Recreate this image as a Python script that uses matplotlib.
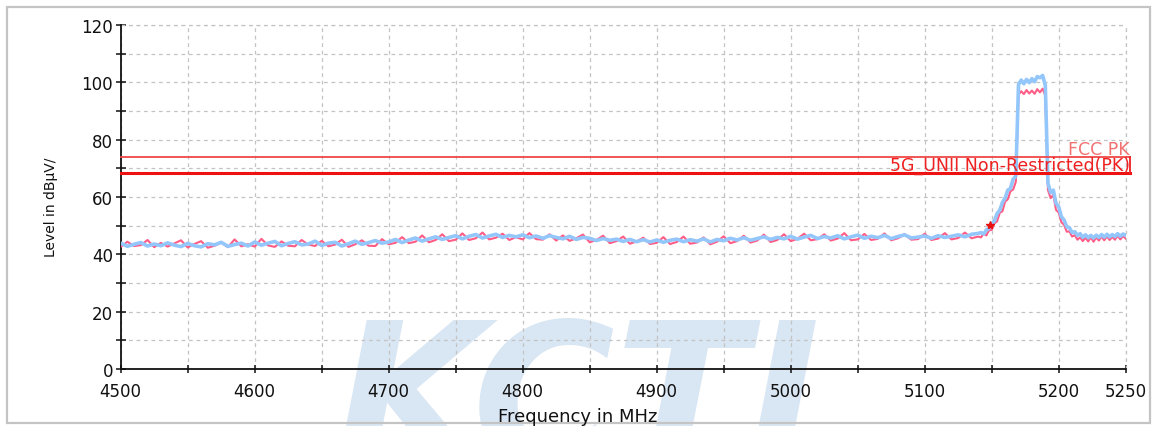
import numpy as np
import matplotlib
matplotlib.use("Agg")
import matplotlib.pyplot as plt
from matplotlib.ticker import MultipleLocator, NullFormatter
from matplotlib.patches import Rectangle

# ---------------- data ----------------
freq_base = np.arange(4500, 5145, 5)          # 4500 ... 5140 MHz
freq_peak = np.arange(5142, 5251, 2)          # 5142 ... 5250 MHz

blue_base = [
    43.9, 42.8, 43.5, 44.1, 42.9, 43.6, 43.0, 44.0, 43.2, 42.7,
    43.8, 43.0, 42.6, 43.7, 43.3, 44.2, 42.8, 43.4, 43.9, 42.9,
    44.3, 43.2, 43.9, 44.5, 43.0, 43.8, 44.4, 43.3, 43.6, 44.6,
    43.1, 43.9, 44.2, 42.9, 43.7, 44.6, 43.5, 44.1, 44.8, 43.9,
    44.3, 45.2, 44.1, 45.0, 45.7, 44.6, 45.4, 46.1, 45.2, 45.9,
    46.5, 45.4, 46.3, 46.9, 45.7, 46.4, 47.0, 45.9, 46.6, 46.1,
    46.8, 45.8, 46.4, 45.6, 46.5, 45.9, 45.4, 46.3, 45.2, 45.9,
    45.6, 44.8, 45.5, 44.9, 45.3, 44.5, 45.2, 44.4, 45.1, 44.3,
    45.0, 44.2, 44.9, 45.3, 44.4, 45.1, 44.6, 45.4, 44.3, 45.2,
    44.7, 45.6, 45.0, 45.8, 44.9, 45.5, 46.1, 45.2, 45.9, 45.4,
    46.3, 45.3, 46.0, 46.6, 45.5, 46.2, 45.7, 46.5, 45.4, 46.1,
    46.7, 45.6, 46.3, 45.8, 46.6, 45.5, 46.2, 46.8, 45.7, 46.0,
    46.4, 45.6, 46.5, 45.9, 46.3, 46.8, 46.1, 47.0, 47.3,
]
red_base = [
    42.6, 44.4, 42.9, 43.2, 45.0, 42.5, 44.0, 42.7, 43.8, 44.9,
    42.4, 43.6, 44.6, 42.3, 43.0, 44.1, 42.5, 45.2, 42.8, 43.5,
    42.7, 45.4, 43.1, 42.6, 44.5, 43.0, 42.8, 45.0, 43.4, 42.9,
    44.7, 42.8, 43.4, 45.1, 42.6, 43.5, 44.9, 43.0, 42.9, 45.3,
    43.5, 44.0, 46.0, 43.9, 44.4, 46.6, 44.2, 45.0, 47.0, 44.6,
    45.1, 47.3, 45.0, 45.6, 47.6, 45.2, 45.8, 47.2, 45.0, 46.0,
    45.2, 47.4, 45.3, 45.1, 47.0, 44.8, 46.6, 44.7, 45.6, 46.9,
    44.2, 45.0, 46.5, 43.9, 44.6, 46.2, 43.7, 44.5, 45.8, 43.6,
    44.0, 46.0, 43.6, 44.3, 46.2, 43.7, 44.1, 45.9, 43.5, 44.4,
    46.3, 43.9, 44.6, 46.5, 44.1, 44.8, 46.9, 44.3, 45.0, 47.0,
    44.6, 45.4, 47.2, 44.9, 45.3, 47.0, 44.8, 45.5, 47.4, 44.9,
    45.2, 47.1, 45.0, 45.4, 47.3, 44.9, 45.6, 47.0, 45.1, 45.3,
    47.2, 45.0, 45.5, 47.4, 45.2, 45.7, 47.6, 45.6, 46.2,
]
blue_peak = [
    47.6, 47.1, 48.5, 49.0, 50.6, 51.7, 54.2, 55.4, 58.1, 59.6,
    62.4, 63.0, 66.2, 67.3,
    99.2, 100.8, 99.5, 101.0, 99.9, 101.3, 100.2, 102.0, 101.6, 102.4, 99.0,
    64.8, 61.5, 62.4, 57.8, 56.6, 53.1, 52.0, 49.6, 49.3, 47.6,
    47.9, 46.6, 47.2, 45.9, 46.8, 45.8, 46.6, 45.7, 46.7, 45.9,
    46.9, 46.0, 47.0, 46.1, 46.9, 46.2, 47.2, 46.3, 47.1, 46.6,
]
red_peak = [
    45.9, 47.2, 46.6, 48.4, 48.5, 50.8, 51.5, 54.5, 55.0, 58.4,
    59.2, 62.0, 62.6, 65.3,
    95.6, 96.9, 95.9, 97.3, 96.1, 97.1, 96.0, 97.6, 96.5, 97.8, 95.3,
    62.4, 59.6, 60.8, 55.5, 54.6, 51.2, 50.3, 47.9, 48.0, 46.2,
    46.7, 45.1, 45.9, 44.6, 45.8, 44.5, 46.0, 44.4, 45.9, 44.8,
    46.2, 44.9, 46.3, 45.0, 46.1, 45.1, 46.5, 45.2, 46.4, 45.5,
]

limit_fcc_pk = 74.0
limit_unii = 68.2
marker_freq = 5148.5
marker_level = 50.2

freq = np.concatenate([freq_base, freq_peak])
blue = np.array(blue_base + blue_peak)
red = np.array(red_base + red_peak)

# ---------------- figure ----------------
W, H = 1159, 427
fig = plt.figure(figsize=(W / 100, H / 100), dpi=100)
fig.patch.set_facecolor("white")

# outer light frame
fig.patches.append(Rectangle((7 / W, 3 / H), 1143 / W, 416 / H,
                             transform=fig.transFigure, fill=False,
                             edgecolor="#c4c4c4", linewidth=1.6))

# watermark
fig.text(578 / W, (H - 462) / H, "KCTI", fontsize=140, fontweight="bold",
         fontstyle="italic", family="DejaVu Sans", color="#d9e6f3",
         ha="center", va="baseline", zorder=-5)

ax = fig.add_axes([120.7 / W, 1 - 370 / H, 1005 / W, 344 / H])
ax.patch.set_alpha(0)

ax.set_xlim(4500, 5250)
ax.set_ylim(0, 120)

ax.xaxis.set_minor_locator(MultipleLocator(50))
ax.yaxis.set_major_locator(MultipleLocator(20))
ax.yaxis.set_minor_locator(MultipleLocator(10))
ax.set_xticks([4500, 4600, 4700, 4800, 4900, 5000, 5100, 5200, 5250])
ax.xaxis.set_minor_formatter(NullFormatter())

for s in ("top", "right"):
    ax.spines[s].set_visible(False)
for s in ("left", "bottom"):
    ax.spines[s].set_linewidth(1.3)
    ax.spines[s].set_color("#111111")

ax.tick_params(axis="x", which="both", direction="inout", length=6,
               width=1.1, pad=6.5, labelsize=12, colors="#111111")
ax.tick_params(axis="y", which="both", direction="inout", length=7,
               width=1.1, pad=2, labelsize=12, colors="#111111")

ax.grid(True, which="both", color="#c3c3c3", linestyle=(0, (3, 3)),
        linewidth=0.9)
ax.axhline(120, color="#c3c3c3", linestyle=(0, (3, 3)), linewidth=0.9,
           clip_on=False)
ax.axvline(5250, color="#c3c3c3", linestyle=(0, (3, 3)), linewidth=0.9,
           clip_on=False)
ax.set_axisbelow(True)

# traces
ax.plot(freq, red, color="#ff5c86", linewidth=1.5, zorder=3)
ax.plot(freq, blue, color="#93c6fb", linewidth=2.6, zorder=4)

# limit lines
ax.plot([4500, 5253], [limit_fcc_pk, limit_fcc_pk], color="#f04848",
        linewidth=1.3, zorder=5, clip_on=False)
ax.plot([4500, 5253], [limit_unii, limit_unii], color="#ee1111",
        linewidth=2.2, zorder=5, clip_on=False)
ax.plot([5253, 5253], [limit_unii, limit_fcc_pk], color="#ee2222",
        linewidth=1.3, zorder=5, clip_on=False)

ax.text(5253, 75.0, "FCC PK", color="#f27272", fontsize=12.5,
        ha="right", va="baseline", zorder=6, clip_on=False)
ax.text(5253, 69.6, "5G_UNII Non-Restricted(PK)", color="#ee2020",
        fontsize=12.5, ha="right", va="baseline", zorder=6, clip_on=False)

# marker
ax.plot([marker_freq], [marker_level], marker="*", color="#e81010",
        markersize=6, zorder=7, linestyle="none")

# axis labels
fig.text(578 / W, 5.3 / H, "Frequency in MHz", fontsize=13,
         ha="center", va="baseline", color="#111111")
fig.text(51 / W, 1 - 207.5 / H, "Level in dB\u00b5V/", fontsize=10,
         rotation=90, ha="center", va="center", color="#111111")

fig.savefig("out.png", dpi=100)
